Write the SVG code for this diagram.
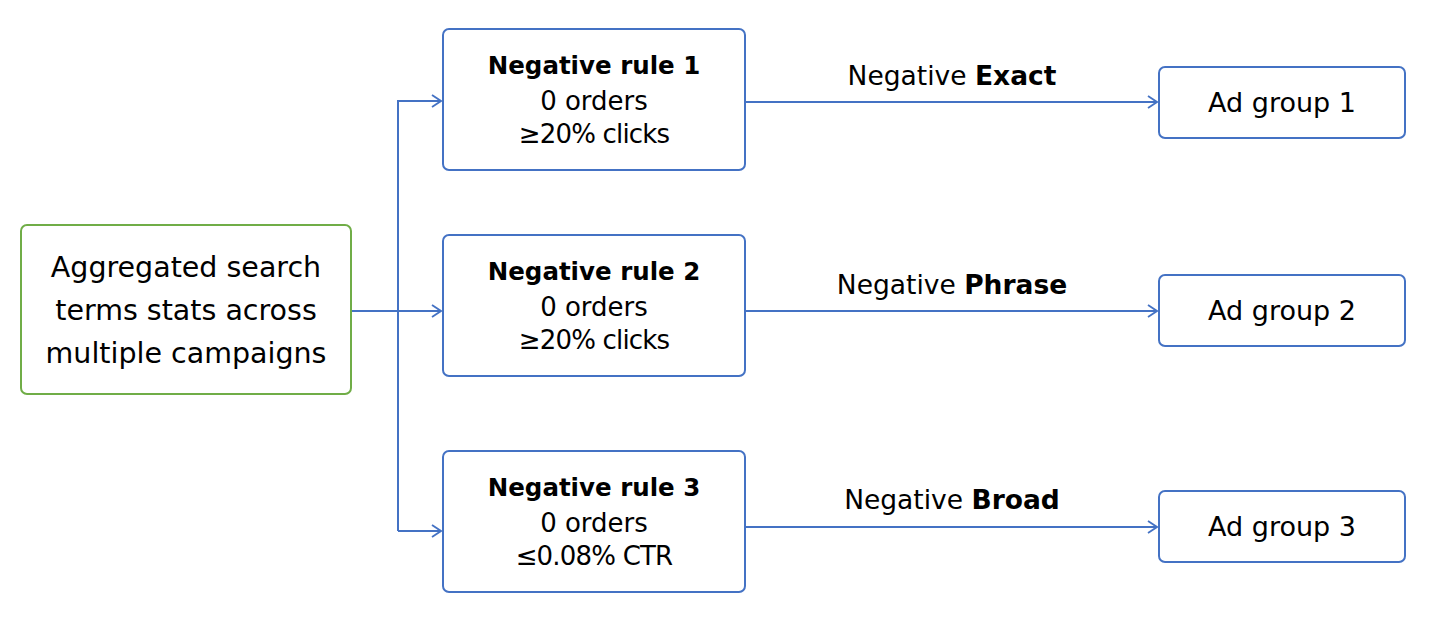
<svg xmlns="http://www.w3.org/2000/svg" width="1430" height="625" viewBox="0 0 1430 625">
<defs>
<marker id="arr" markerWidth="12" markerHeight="14" refX="11" refY="7" orient="auto" markerUnits="userSpaceOnUse">
<path d="M2,1 L11,7 L2,13" fill="none" stroke="#4472c4" stroke-width="1.8"/>
</marker>
<style>
.box{fill:#fff;stroke:#4472c4;stroke-width:2}
.src{fill:#fff;stroke:#70ad47;stroke-width:2}
.t{font-family:"DejaVu Sans","Open Sans",sans-serif;fill:#000;text-anchor:middle}
.b{font-weight:bold}
.c{fill:none;stroke:#4472c4;stroke-width:2}
</style>
</defs>
<rect width="1430" height="625" fill="#fff"/>
<g id="connectors">
<path class="c" d="M351,311 L441,311" marker-end="url(#arr)"/>
<path class="c" d="M398,531 L398,101 L441,101" marker-end="url(#arr)"/>
<path class="c" d="M398,531 L441,531" marker-end="url(#arr)"/>
<path class="c" d="M745,102 L1157,102" marker-end="url(#arr)"/>
<path class="c" d="M745,311 L1157,311" marker-end="url(#arr)"/>
<path class="c" d="M745,527 L1157,527" marker-end="url(#arr)"/>
<text class="t" x="952" y="85" font-size="26.5">Negative <tspan class="b">Exact</tspan></text>
<text class="t" x="952" y="294" font-size="26.5">Negative <tspan class="b">Phrase</tspan></text>
<text class="t" x="952" y="509" font-size="26.5">Negative <tspan class="b">Broad</tspan></text>
</g>
<g id="source">
<rect class="src" x="21" y="225" width="330" height="169" rx="6"/>
<text class="t" x="186" y="277" font-size="28.5">Aggregated search</text>
<text class="t" x="186" y="320" font-size="28.5">terms stats across</text>
<text class="t" x="186" y="363" font-size="28.5">multiple campaigns</text>
</g>
<g id="rule1">
<rect class="box" x="443" y="29" width="302" height="141" rx="6"/>
<text class="t b" x="594" y="74" font-size="24.5">Negative rule 1</text>
<text class="t" x="594" y="110" font-size="26">0 orders</text>
<text class="t" x="594" y="143" font-size="26" letter-spacing="-0.8">≥20% clicks</text>
</g>
<g id="rule2">
<rect class="box" x="443" y="235" width="302" height="141" rx="6"/>
<text class="t b" x="594" y="280" font-size="24.5">Negative rule 2</text>
<text class="t" x="594" y="316" font-size="26">0 orders</text>
<text class="t" x="594" y="349" font-size="26" letter-spacing="-0.8">≥20% clicks</text>
</g>
<g id="rule3">
<rect class="box" x="443" y="451" width="302" height="141" rx="6"/>
<text class="t b" x="594" y="496" font-size="24.5">Negative rule 3</text>
<text class="t" x="594" y="532" font-size="26">0 orders</text>
<text class="t" x="594" y="565" font-size="26" letter-spacing="-0.8">≤0.08% CTR</text>
</g>
<g id="adgroup1">
<rect class="box" x="1159" y="67" width="246" height="71" rx="6"/>
<text class="t" x="1282" y="112" font-size="27">Ad group 1</text>
</g>
<g id="adgroup2">
<rect class="box" x="1159" y="275" width="246" height="71" rx="6"/>
<text class="t" x="1282" y="320" font-size="27">Ad group 2</text>
</g>
<g id="adgroup3">
<rect class="box" x="1159" y="491" width="246" height="71" rx="6"/>
<text class="t" x="1282" y="536" font-size="27">Ad group 3</text>
</g>
</svg>
